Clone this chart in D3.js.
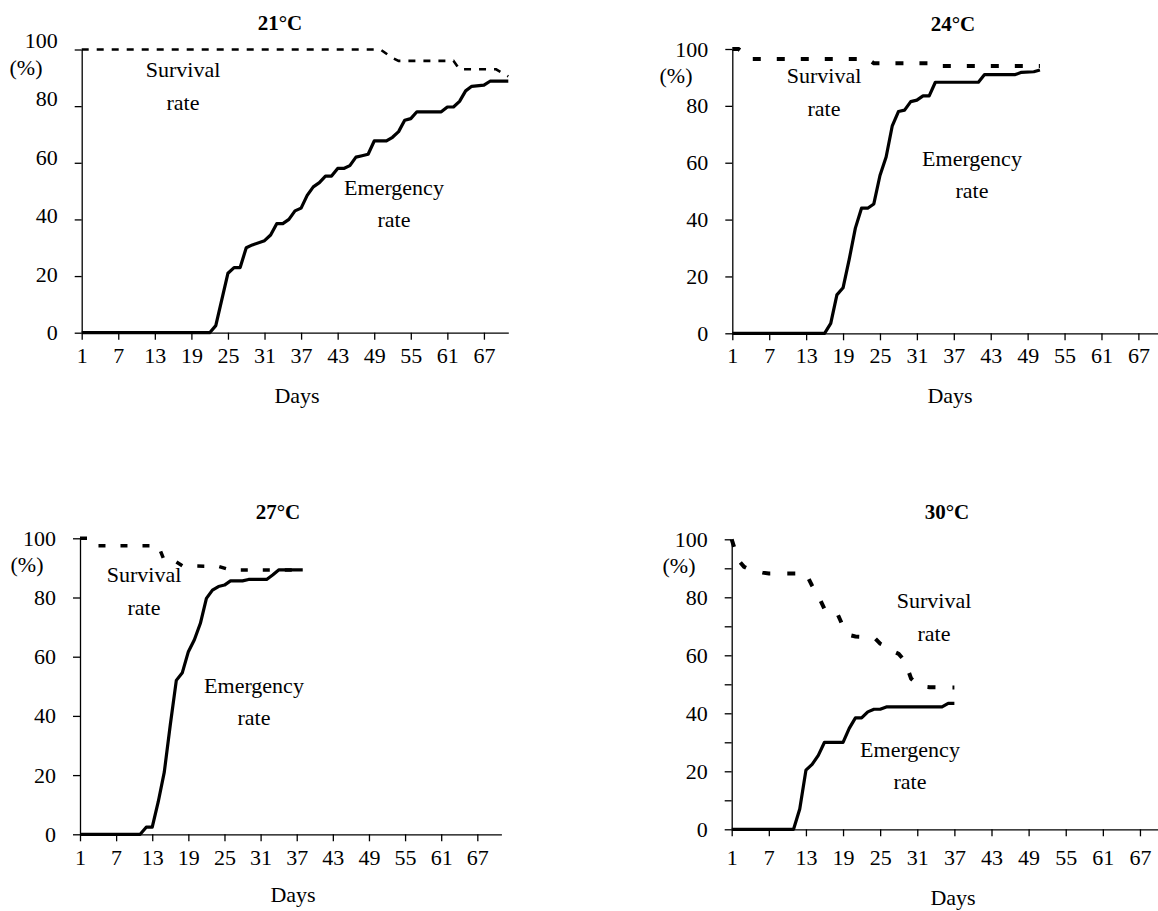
<!DOCTYPE html>
<html>
<head>
<meta charset="utf-8">
<script src="https://cdn.jsdelivr.net/npm/d3@7"></script>
<style>
  body { margin: 0; background: #fff; }
  svg { display: block; font-family: "Liberation Serif", "Times New Roman", serif; }
  .axis path, .axis line { stroke: #000; stroke-width: 1.3; }
  .axis text { font-size: 22px; fill: #000; font-family: "Liberation Serif", "Times New Roman", serif; }
</style>
</head>
<body>
<svg width="1158" height="911"></svg>
<script>
// tick labels shared by the four panels
const dayTicks = [1, 7, 13, 19, 25, 31, 37, 43, 49, 55, 61, 67];
const rateTicks = [0, 20, 40, 60, 80, 100];
const minorTicks = [10, 30, 50, 70, 90];

// 21°C
const emDays21 = [1, 22, 23, 25, 26, 27, 28, 29, 31, 32, 33, 34, 35, 36, 37, 38, 39, 40, 41, 42, 43, 44, 45, 46, 47, 48, 49, 51, 52, 53, 54, 55, 56, 60, 61, 62, 63, 64, 65, 67, 68, 71];
const emRate21 = [0, 0, 2.5, 21, 23, 23, 30, 31, 32.5, 34.5, 38.5, 38.5, 40, 43, 44, 48.5, 51.5, 53, 55.3, 55.3, 58, 58, 59, 62, 62.5, 63, 67.7, 67.7, 69, 71, 75, 75.6, 78, 78, 79.7, 79.7, 81.7, 85.4, 87, 87.4, 88.8, 88.8];
const svDays21 = [1, 50, 52, 53, 62, 63, 69, 71];
const svRate21 = [100, 100, 97, 96, 96, 93, 93, 90.5];

// 24°C
const emDays24 = [1, 16, 17, 18, 19, 20, 21, 22, 23, 24, 25, 26, 27, 28, 29, 30, 31, 32, 33, 34, 41, 42, 47, 48, 50, 51];
const emRate24 = [0, 0, 3.5, 13.5, 16, 26, 37, 44, 44, 45.5, 55.5, 62, 73, 78, 78.5, 81.5, 82, 83.5, 83.5, 88.3, 88.3, 91, 91, 91.8, 92, 92.6];
const svDays24 = [1, 2, 4, 23, 24, 34, 35, 51];
const svRate24 = [100, 100, 96.5, 96.5, 95, 95, 94, 94];

// 27°C
const emDays27 = [1, 11, 12, 13, 14, 15, 16, 17, 18, 19, 20, 21, 22, 23, 24, 25, 26, 28, 29, 32, 33, 34, 38];
const emRate27 = [0, 0, 2.4, 2.4, 11, 21, 37, 52, 54.6, 61.7, 65.7, 71.3, 79.7, 82.5, 83.7, 84.2, 85.6, 85.6, 86.1, 86.1, 87.6, 89.3, 89.3];
const svDays27 = [1, 3, 4, 14, 15, 17, 18, 24, 26, 38];
const svRate27 = [100, 100, 97.5, 97.5, 92.5, 92, 90.7, 90.5, 89.3, 89.3];

// 30°C
const emDays30 = [1, 11, 12, 13, 14, 15, 16, 19, 20, 21, 22, 23, 24, 25, 26, 35, 36, 37];
const emRate30 = [0, 0, 7, 20.4, 22.4, 25.5, 30, 30, 34.8, 38.4, 38.4, 40.5, 41.4, 41.4, 42.2, 42.2, 43.4, 43.4];
const svDays30 = [1, 2, 3, 4, 5, 6, 7, 13, 14, 15, 16, 17, 18, 19, 20, 21, 24, 25, 26, 27, 28, 29, 30, 31, 32, 33, 36, 37];
const svRate30 = [100, 93, 90.5, 89.5, 89, 88.5, 88.2, 88.2, 84, 80.5, 76, 74.8, 74.8, 70, 67, 66.5, 66.2, 64, 63, 61.5, 60.5, 58, 52, 50, 49.2, 49, 48.9, 48.9];

// layout of each panel (lblShift: the 21°C labels sit a bit above their ticks)
const panels = [
  { title: "21°C", em: [emDays21, emRate21], sv: [svDays21, svRate21],
    xr: [81.7, 508.3], yr: [332.7, 49.5], dash: "7,8", svW: 2.6, pad: 7.5, minor: false, lblShift: -9,
    tPos: [280, 30], pct: [26, 75], surv: [183, 77], emer: [394, 195], days: [297, 403] },
  { title: "24°C", em: [emDays24, emRate24], sv: [svDays24, svRate24],
    xr: [732.3, 1163], yr: [333.3, 49], dash: "8,16", svW: 4, pad: 7.5, minor: false, lblShift: 0,
    tPos: [953, 31], pct: [676, 83], surv: [824, 83], emer: [972, 166], days: [950, 403] },
  { title: "27°C", em: [emDays27, emRate27], sv: [svDays27, svRate27],
    xr: [80, 501.4], yr: [834.3, 538.3], dash: "7,15", svW: 3.5, pad: 8, minor: false, lblShift: 0,
    tPos: [278, 519], pct: [27, 572], surv: [144, 582], emer: [254, 693], days: [293, 902] },
  { title: "30°C", em: [emDays30, emRate30], sv: [svDays30, svRate30],
    xr: [731.7, 1164.7], yr: [829.3, 539.3], dash: "8,17", svW: 4, pad: 13.5, minor: true, lblShift: 0,
    tPos: [947, 519], pct: [679, 573], surv: [934, 608], emer: [910, 757], days: [953, 905] }
];

const svg = d3.select("svg");

panels.forEach(p => {
  const x = d3.scaleLinear().domain([1, 71]).range(p.xr);
  const y = d3.scaleLinear().domain([0, 100]).range(p.yr);
  const g = svg.append("g");

  // axes
  g.append("g")
    .attr("class", "axis")
    .attr("transform", `translate(0,${p.yr[0]})`)
    .call(d3.axisBottom(x).tickValues(dayTicks).tickSize(7).tickSizeOuter(0).tickPadding(p.pad).tickFormat(d3.format("d")));

  const yAx = g.append("g")
    .attr("class", "axis")
    .attr("transform", `translate(${p.xr[0]},0)`)
    .call(d3.axisLeft(y).tickValues(rateTicks).tickSize(7).tickSizeOuter(0).tickPadding(17));
  yAx.selectAll(".tick text")
    .attr("transform", d => `translate(0,${p.lblShift * d / 100})`);

  if (p.minor) {
    g.append("g")
      .attr("class", "axis")
      .attr("transform", `translate(${p.xr[0]},0)`)
      .call(d3.axisLeft(y).tickValues(minorTicks).tickSize(7).tickFormat(""))
      .select(".domain").remove();
  }

  const line = d3.line().x(d => x(d[0])).y(d => y(d[1]));

  // survival rate (dashed)
  g.append("path")
    .datum(d3.zip(p.sv[0], p.sv[1]))
    .attr("d", line)
    .attr("fill", "none")
    .attr("stroke", "#000")
    .attr("stroke-width", p.svW)
    .attr("stroke-dasharray", p.dash);

  // emergency rate (solid)
  g.append("path")
    .datum(d3.zip(p.em[0], p.em[1]))
    .attr("d", line)
    .attr("fill", "none")
    .attr("stroke", "#000")
    .attr("stroke-width", 3.2)
    .attr("stroke-linejoin", "round");

  // texts
  const txt = (pos, s, bold) => g.append("text")
    .attr("x", pos[0]).attr("y", pos[1])
    .attr("text-anchor", "middle")
    .attr("font-family", "'Liberation Serif', 'Times New Roman', serif")
    .attr("font-size", bold ? 21 : 22)
    .attr("font-weight", bold ? "bold" : "normal")
    .text(s);

  txt(p.tPos, p.title, true);
  txt(p.pct, "(%)");
  txt(p.surv, "Survival");
  txt([p.surv[0], p.surv[1] + 33], "rate");
  txt(p.emer, "Emergency");
  txt([p.emer[0], p.emer[1] + 32], "rate");
  txt(p.days, "Days");
});
</script>
</body>
</html>
